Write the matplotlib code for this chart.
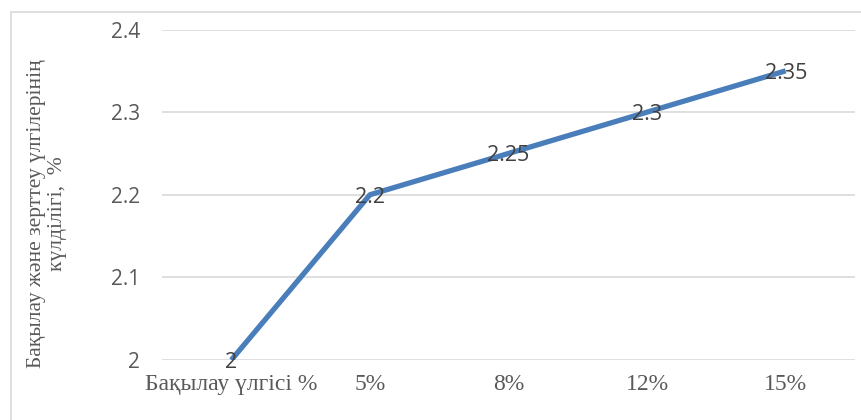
import matplotlib
matplotlib.use("Agg")
import matplotlib.pyplot as plt
from matplotlib.patches import Rectangle

categories = ["Бақылау үлгісі %", "5%", "8%", "12%", "15%"]
values = [2.0, 2.2, 2.25, 2.3, 2.35]
value_labels = ["2", "2.2", "2.25", "2.3", "2.35"]
y_ticks = [2.0, 2.1, 2.2, 2.3, 2.4]
y_tick_labels = ["2", "2.1", "2.2", "2.3", "2.4"]
y_title = "Бақылау және зерттеу үлгілерінің\nкүлділігі,  %"

W, H = 862, 420
fig = plt.figure(figsize=(W / 100, H / 100), dpi=100)
ax = fig.add_axes([162 / W, 1 - 360 / H, (855 - 162) / W, (360 - 29.5) / H])

x = list(range(len(categories)))
ax.plot(x, values, color="#4a7ebb", lw=3.8, solid_capstyle="butt", zorder=3)

for xi, v, lab in zip(x, values, value_labels):
    ax.text(xi, v, lab, ha="center", va="center_baseline", fontsize=15.5,
            family="Open Sans", color="#404040", zorder=4)

ax.set_xlim(-0.5, len(categories) - 0.5)
ax.set_ylim(2.0, 2.4)
ax.set_yticks(y_ticks)
ax.set_yticklabels(y_tick_labels, family="Open Sans", fontsize=15, color="#595959")
ax.set_xticks(x)
ax.set_xticklabels(categories, family="Liberation Serif", fontsize=17, color="#595959")
ax.tick_params(length=0)
ax.tick_params(axis="y", pad=16)
ax.tick_params(axis="x", pad=10)
ax.yaxis.grid(True, color="#d9d9d9", lw=1.2)
ax.set_axisbelow(True)
for s in ax.spines.values():
    s.set_visible(False)

fig.text(47 / W, 1 - 214 / H, y_title, rotation=90, ha="center", va="center",
         family="Liberation Serif", fontsize=15.5, color="#595959",
         linespacing=1.08, multialignment="center")

fig.patches.append(Rectangle((11.5 / W, -0.1), 1.2, 1.1 - 12 / H,
                             transform=fig.transFigure, fill=False,
                             edgecolor="#d9d9d9", lw=1.2))

fig.savefig("out.png", dpi=100)
